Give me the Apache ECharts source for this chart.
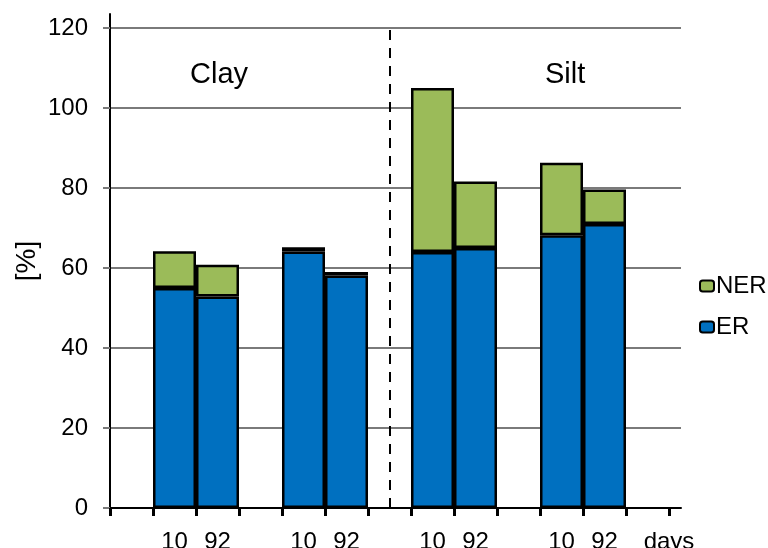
<!DOCTYPE html>
<html>
<head>
<meta charset="utf-8">
<script src="https://cdn.jsdelivr.net/npm/echarts@6/dist/echarts.min.js"></script>
<style>html,body{margin:0;padding:0;background:#fff}#c{width:768px;height:548px}</style>
</head>
<body>
<div id="c"></div>
<script>
// tick labels of the category axis (empty slots are gaps between groups)
const categories = ['', '10', '92', '', '10', '92', '', '10', '92', '', '10', '92', ''];
// extractable residues (ER), %
const erValues = [null, 55.0, 52.9, null, 64.1, 58.1, null, 64.0, 65.0, null, 68.2, 71.0, null];
// non-extractable residues (NER), %
const nerValues = [null, 9.2, 7.9, null, 1.1, 0.9, null, 41.0, 16.6, null, 18.1, 8.6, null];
const yTicks = [0, 20, 40, 60, 80, 100, 120];
const groupNames = ['Clay', 'Silt'];
const dividerIndex = 6;

const FONT = 'Liberation Sans, Arial, sans-serif';
const chart = echarts.init(document.getElementById('c'), null, {renderer: 'canvas'});

const option = {
  animation: false,
  backgroundColor: '#fff',
  textStyle: {fontFamily: FONT},
  grid: [
    {left: 110, right: 99, top: 28, bottom: 40, containLabel: false, outerBoundsMode: 'none'},
    {left: 110, right: 87, top: 28, bottom: 40, containLabel: false, outerBoundsMode: 'none'},
    {left: 110, right: 87, top: 14, bottom: 40, containLabel: false, outerBoundsMode: 'none'}
  ],
  xAxis: [
    {
      type: 'category', gridIndex: 0, data: categories,
      boundaryGap: true,
      axisLine: {show: true, lineStyle: {color: '#000', width: 2}},
      axisTick: {show: true, alignWithLabel: false, interval: 0, length: 8, lineStyle: {color: '#000', width: 3}},
      axisLabel: {interval: 0, margin: 22, fontSize: 24, color: '#000', fontFamily: FONT},
      name: 'days', nameLocation: 'end', nameGap: 0,
      nameTextStyle: {fontSize: 24, color: '#000', fontFamily: FONT, align: 'center', verticalAlign: 'top', padding: [22, 0, 0, 0]},
      splitLine: {show: false}
    },
    {
      type: 'value', gridIndex: 1, min: 0, max: 1,
      axisLine: {show: true, onZero: false, lineStyle: {color: '#000', width: 2}},
      axisTick: {show: false}, axisLabel: {show: false}, splitLine: {show: false}
    },
    {
      type: 'value', gridIndex: 2, min: 0, max: 1, show: false
    }
  ],
  yAxis: [
    {
      type: 'value', gridIndex: 0, min: 0, max: 120, interval: 20,
      axisLine: {show: false},
      axisTick: {show: true, length: 7, lineStyle: {color: '#7a7a7a', width: 2}},
      axisLabel: {margin: 22, fontSize: 24, color: '#000', fontFamily: FONT,
        customValues: yTicks},
      splitLine: {show: false}
    },
    {
      type: 'value', gridIndex: 1, min: 0, max: 120, interval: 20,
      axisLine: {show: false}, axisTick: {show: false}, axisLabel: {show: false},
      splitLine: {show: true, lineStyle: {color: '#7a7a7a', width: 2}}
    },
    {
      type: 'value', gridIndex: 2, min: 0, max: 1,
      axisLine: {show: true, lineStyle: {color: '#000', width: 2}},
      axisTick: {show: false}, axisLabel: {show: false}, splitLine: {show: false},
      name: '[%]', nameLocation: 'middle', nameGap: 69, nameRotate: 90,
      nameTextStyle: {fontSize: 28, color: '#000', fontFamily: FONT}
    }
  ],
  legend: {
    orient: 'vertical', left: 699, top: 274, padding: 0,
    data: ['NER', 'ER'],
    itemWidth: 14, itemHeight: 11, itemGap: 17,
    textStyle: {fontSize: 24, color: '#000', fontFamily: FONT, padding: [0, 0, 0, -3]},
    itemStyle: {borderColor: '#000', borderWidth: 2}
  },
  series: [
    {
      name: 'ER', type: 'bar', stack: 'total', xAxisIndex: 0, yAxisIndex: 0,
      data: erValues, barCategoryGap: '0%', barWidth: '100%',
      itemStyle: {color: '#0070C0', borderColor: '#000', borderWidth: 2.5},
      markLine: {
        silent: true, symbol: 'none',
        label: {show: false},
        lineStyle: {color: '#000', width: 2, type: [10, 8]},
        data: [{xAxis: dividerIndex}]
      }
    },
    {
      name: 'NER', type: 'bar', stack: 'total', xAxisIndex: 0, yAxisIndex: 0,
      data: nerValues, barCategoryGap: '0%', barWidth: '100%',
      itemStyle: {color: '#9BBB59', borderColor: '#000', borderWidth: 2.5}
    }
  ],
  graphic: [
    {type: 'text', left: 190, top: 60, style: {text: groupNames[0], font: '29px ' + FONT, fill: '#000'}},
    {type: 'text', left: 545, top: 60, style: {text: groupNames[1], font: '29px ' + FONT, fill: '#000'}}
  ]
};
chart.setOption(option);
</script>
</body>
</html>
